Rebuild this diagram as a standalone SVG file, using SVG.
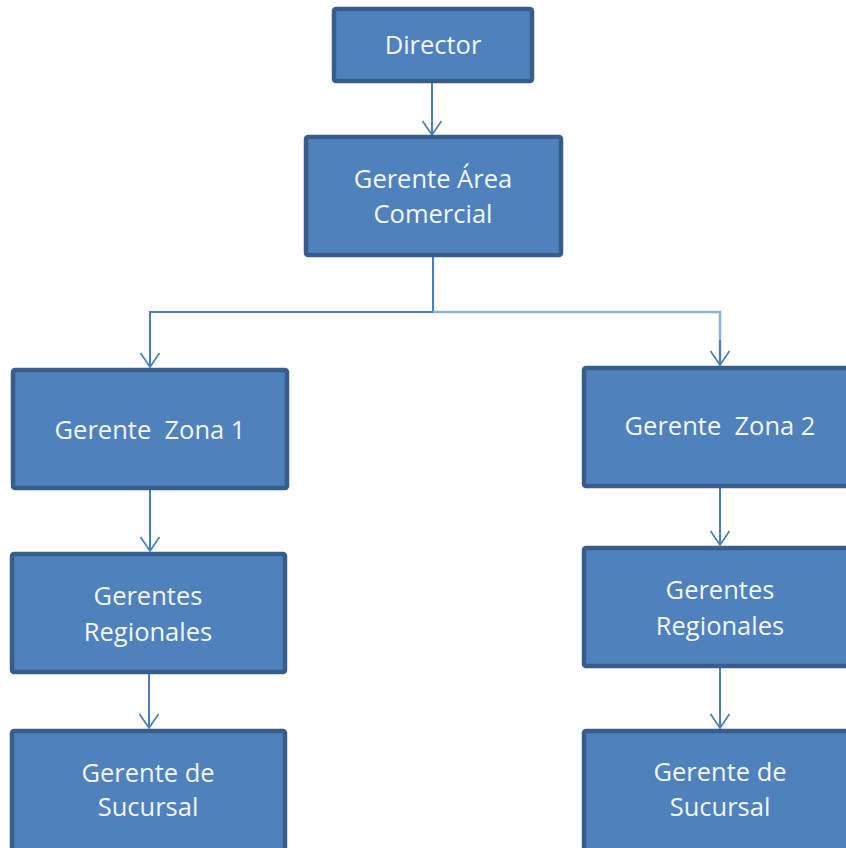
<svg xmlns="http://www.w3.org/2000/svg" width="846" height="848" viewBox="0 0 846 848">
<defs>
<style>
.box{fill:#4f81bd;stroke:#385d8a;stroke-width:4.5}
.t{font-family:"Open Sans","Noto Sans","Liberation Sans",sans-serif;font-size:25.5px;fill:#f4f6fa;text-anchor:middle}
.c{fill:none;stroke:#4a7ebb;stroke-width:2}
.c2{fill:none;stroke:#8eb0dc;stroke-width:2.5}
</style>
<marker id="arr" viewBox="0 0 18 22" markerWidth="18" markerHeight="22" refX="15" refY="11" orient="auto" markerUnits="userSpaceOnUse">
<path d="M1,1.5 L15,11 L1,20.5" fill="none" stroke="#4a7ebb" stroke-width="1.7"/>
</marker>
</defs>
<rect width="846" height="848" fill="#ffffff"/>
<g id="connectors">
<path class="c" d="M432,81 V135" marker-end="url(#arr)"/>
<path class="c" d="M433,256 V312 H150 V367" marker-end="url(#arr)"/>
<path class="c2" d="M433,312 H720 V365"/>
<path class="c" d="M720,340 V365" marker-end="url(#arr)"/>
<path class="c" d="M150,490 V551" marker-end="url(#arr)"/>
<path class="c" d="M720,488 V545" marker-end="url(#arr)"/>
<path class="c" d="M149,674 V728" marker-end="url(#arr)"/>
<path class="c" d="M720,668 V728" marker-end="url(#arr)"/>
</g>
<g id="director">
<rect class="box" x="334" y="9" width="198" height="72" rx="2"/>
<text class="t" x="433" y="54">Director</text>
</g>
<g id="gerente-area">
<rect class="box" x="306" y="137" width="255" height="118" rx="2"/>
<text class="t" x="433" y="188">Gerente Área</text>
<text class="t" x="433" y="223">Comercial</text>
</g>
<g id="zona1">
<rect class="box" x="13" y="370" width="274" height="118" rx="2"/>
<text class="t" x="150" y="439" xml:space="preserve">Gerente  Zona 1</text>
</g>
<g id="zona2">
<rect class="box" x="584" y="368" width="272" height="118" rx="2"/>
<text class="t" x="720" y="435" xml:space="preserve">Gerente  Zona 2</text>
</g>
<g id="regionales1">
<rect class="box" x="12" y="554" width="273" height="118" rx="2"/>
<text class="t" x="148" y="605">Gerentes</text>
<text class="t" x="148" y="641">Regionales</text>
</g>
<g id="regionales2">
<rect class="box" x="584" y="548" width="272" height="118" rx="2"/>
<text class="t" x="720" y="599">Gerentes</text>
<text class="t" x="720" y="635">Regionales</text>
</g>
<g id="sucursal1">
<rect class="box" x="12" y="731" width="273" height="130" rx="2"/>
<text class="t" x="148" y="782">Gerente de</text>
<text class="t" x="148" y="816">Sucursal</text>
</g>
<g id="sucursal2">
<rect class="box" x="584" y="731" width="272" height="130" rx="2"/>
<text class="t" x="720" y="781">Gerente de</text>
<text class="t" x="720" y="816">Sucursal</text>
</g>
</svg>
